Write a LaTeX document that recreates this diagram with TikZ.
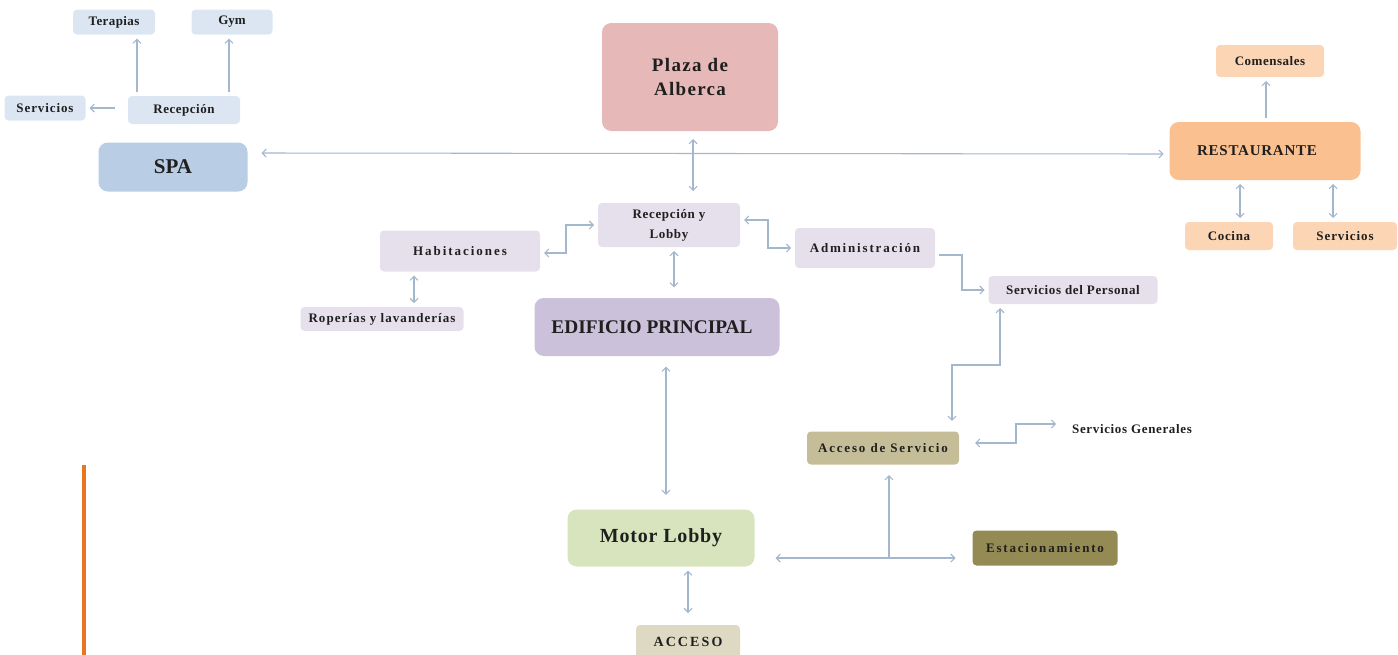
\documentclass[tikz,border=0pt]{standalone}
\usepackage{fontspec}
\setmainfont{Liberation Serif}
\usetikzlibrary{calc,arrows.meta}

\definecolor{spalight}{HTML}{DCE6F2}
\definecolor{spadark}{HTML}{B9CDE5}
\definecolor{plazarose}{HTML}{E6B9B8}
\definecolor{restdark}{HTML}{FAC090}
\definecolor{restlight}{HTML}{FCD5B5}
\definecolor{lobbylight}{HTML}{E6E0EC}
\definecolor{lobbydark}{HTML}{CCC1DA}
\definecolor{motorgreen}{HTML}{D7E4BD}
\definecolor{accsrv}{HTML}{C4BD97}
\definecolor{estacolive}{HTML}{948A54}
\definecolor{acclight}{HTML}{DDD9C3}
\definecolor{linkblue}{HTML}{A3B7CD}
\definecolor{barorange}{HTML}{E87722}
\definecolor{textgray}{HTML}{1F1F1F}

\tikzset{
  blk/.style 2 args={rectangle, rounded corners=3pt, inner sep=0pt, outer sep=3pt,
    minimum width=#1*0.75pt, minimum height=#2*0.75pt, text=textgray, align=center,
    font=\fontsize{9.75}{12}\selectfont\bfseries},
  bigblk/.style={rounded corners=7pt},
  spaced/.style={execute at begin node=\addfontfeature{LetterSpace=#1}},
  lnk/.style={draw=linkblue, line width=0.8pt},
  oneway/.style={-{Straight Barb[length=3pt,width=6pt]}},
  twoway/.style={{Straight Barb[length=3pt,width=6pt]}-{Straight Barb[length=3pt,width=6pt]}},
}

\begin{document}
\begin{tikzpicture}[x=0.75pt, y=-0.75pt]
    \useasboundingbox (0,0) rectangle (1398,654);

    % SPA
    \node[blk={149}{49}, bigblk, fill=spadark, font=\fontsize{15.75}{18}\selectfont\bfseries] (spa) at (173,167) {SPA};
    \node[blk={112}{28}, fill=spalight, spaced=4] (rspa) at (184,110) {Recepción};
    \node[blk={82}{25}, fill=spalight, spaced=3] (ter) at (114,22) {Terapias};
    \node[blk={81}{25}, fill=spalight] (gym) at (232,22) {Gym};
    \node[blk={81}{25}, fill=spalight, spaced=7] (sspa) at (45,108) {Servicios};

    % Plaza and restaurant
    \node[blk={176}{108}, bigblk, fill=plazarose, spaced=7, font=\fontsize{14.25}{17.5}\selectfont\bfseries] (plaza) at (690,77) {Plaza de\\Alberca};
    \node[blk={191}{58}, bigblk, fill=restdark, spaced=5, font=\fontsize{11.25}{14}\selectfont\bfseries] (rest) at (1265,151) {RESTAURANTE\hspace*{12pt}};
    \node[blk={108}{32}, fill=restlight, spaced=4] (com) at (1270,61) {Comensales};
    \node[blk={88}{28}, fill=restlight, spaced=5] (coc) at (1229,236) {Cocina};
    \node[blk={104}{28}, fill=restlight, spaced=7] (srest) at (1345,236) {Servicios};

    % Main building
    \node[blk={142}{44}, fill=lobbylight, spaced=5, font=\fontsize{9.75}{15}\selectfont\bfseries] (rlob) at (669,225) {Recepción y\\Lobby};
    \node[blk={160}{41}, fill=lobbylight, spaced=15] (hab) at (460,251) {Habitaciones};
    \node[blk={140}{40}, fill=lobbylight, spaced=14] (adm) at (865,248) {Administración};
    \node[blk={169}{28}, fill=lobbylight, spaced=5] (sper) at (1073,290) {Servicios del Personal};
    \node[blk={163}{24}, fill=lobbylight, spaced=8] (rop) at (382,319) {Roperías y lavanderías};
    \node[blk={245}{58}, bigblk, fill=lobbydark, font=\fontsize{14.5}{17}\selectfont\bfseries] (edif) at (657,327) {EDIFICIO PRINCIPAL\hspace*{7.5pt}};

    % Access and parking
    \node[blk={152}{33}, fill=accsrv, spaced=14] (acs) at (883,448) {Acceso de Servicio};
    \node[blk={0}{0}, spaced=5] (sgen) at (1132,429) {Servicios Generales};
    \node[blk={187}{57}, bigblk, fill=motorgreen, spaced=4, font=\fontsize{15}{18}\selectfont\bfseries] (motor) at (661,538) {Motor Lobby};
    \node[blk={145}{35}, fill=estacolive, spaced=14] (estac) at (1045,548) {Estacionamiento};
    \node[blk={104}{34}, fill=acclight, spaced=15, font=\fontsize{10.5}{13}\selectfont\bfseries] (acc) at (688,642) {ACCESO};

    \draw[barorange, line width=3pt] (84,465) -- (84,660);

    % connectors
    \draw[lnk, oneway] ($(rspa.north)+(-47,0)$) coordinate (t1) -- (t1 |- ter.south);
    \draw[lnk, oneway] ($(rspa.north)+(45,0)$) coordinate (t2) -- (t2 |- gym.south);
    \draw[lnk, oneway] (sspa.east -| rspa.west) ++(-9,0) -- (sspa.east);
    \draw[lnk, twoway] ($(spa.east)+(10,-14)$) -- ($(rest.west)+(-2,3)$);
    \draw[lnk, twoway, shorten <=3pt, shorten >=6pt] ($(plaza.south)+(3,0)$) coordinate (p1) -- (p1 |- rlob.north);
    \draw[lnk, oneway] ($(rest.north)+(1,0)$) coordinate (r1) -- (r1 |- com.south);
    \draw[lnk, twoway] ($(rest.south)+(-25,0)$) coordinate (r2) -- (r2 |- coc.north);
    \draw[lnk, twoway] ($(rest.south)+(68,0)$) coordinate (r3) -- (r3 |- srest.north);
    \draw[lnk, twoway] ($(hab.east)+(0,2)$) -- ++(22,0) |- (rlob.west);
    \draw[lnk, twoway] ($(rlob.east)+(0,-5)$) -- ++(24,0) |- (adm.west);
    \draw[lnk, twoway, shorten >=5pt] ($(rlob.south)+(5,0)$) coordinate (p2) -- (p2 |- edif.north);
    \draw[lnk, twoway] ($(hab.south)+(-46,0)$) coordinate (p3) -- (p3 |- rop.north);
    \draw[lnk, oneway] ($(adm.east)+(0,7)$) -- ++(23,0) |- (sper.west);
    \draw[lnk, twoway, shorten >=5pt] ($(sper.south)+(-73,0)$) -- ++(0,57) -| ($(acs.north)+(69,0)$);
    \draw[lnk, twoway] ($(acs.east)+(12,-5)$) -- ++(41,0) |- ($(sgen.west)+(-12,-5)$);
    \draw[lnk, twoway, shorten <=5pt, shorten >=8pt] ($(edif.south)+(9,0)$) coordinate (p4) -- (p4 |- motor.north);
    \draw[lnk, twoway, shorten >=6pt] ($(motor.south)+(27,0)$) coordinate (p5) -- (p5 |- acc.north);
    \draw[lnk, twoway] ($(motor.east)+(17,20)$) -- ($(estac.west)+(-13,10)$);
    \coordinate (jn) at (889,558);
    \draw[lnk, oneway, shorten >=5pt] (jn) -- (jn |- acs.south);
\end{tikzpicture}
\end{document}
